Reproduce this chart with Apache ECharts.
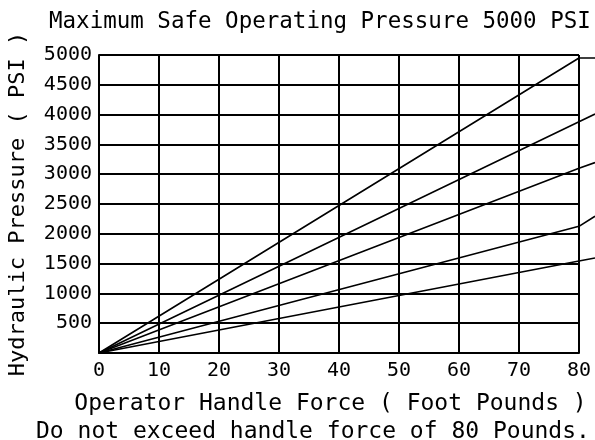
<!DOCTYPE html>
<html>
<head>
<meta charset="utf-8">
<script src="https://cdn.jsdelivr.net/npm/echarts@6/dist/echarts.min.js"></script>
<style>
    html, body { margin: 0; padding: 0; background: #fff; }
    #main { width: 595px; height: 440px; }
</style>
</head>
<body>
<div id="main"></div>
<script>
// handle force points (last point runs past the 80 lb border)
var forceX = [0, 80, 82.67];
// pressure, top to bottom
var line1 = [0, 4950, 4950];
var line2 = [0, 3880, 4010];
var line3 = [0, 3100, 3195];
var line4 = [0, 2125, 2295];
var line5 = [0, 1545, 1595];
var xTicks = [0, 10, 20, 30, 40, 50, 60, 70, 80];
var yTicks = [500, 1000, 1500, 2000, 2500, 3000, 3500, 4000, 4500, 5000];

var fontName = 'DejaVu Sans Mono';
var myChart = echarts.init(document.getElementById('main'));

function toPoints(vals) {
    var pts = [];
    for (var i = 0; i < forceX.length; i++) {
        pts.push([forceX[i], vals[i]]);
    }
    return pts;
}

// lines live on a second (hidden) grid that reaches the right edge,
// same scale as the visible one: 480px per 80 lb -> 496px is 82.67 lb
function lineSeries(vals) {
    return {
        type: 'line',
        xAxisIndex: 1,
        yAxisIndex: 1,
        data: toPoints(vals),
        symbol: 'none',
        silent: true,
        lineStyle: { color: '#000', width: 1.6 }
    };
}

var option = {
    animation: false,
    backgroundColor: '#fff',
    title: {
        text: 'Maximum Safe Operating Pressure 5000 PSI',
        left: 44,
        top: 6,
        textStyle: { fontFamily: fontName, fontSize: 22.5, fontWeight: 'normal', color: '#000' }
    },
    grid: [
        { left: 99, right: 16, top: 55, bottom: 87, outerBoundsMode: 'none' },
        { left: 99, right: 0, top: 55, bottom: 87, outerBoundsMode: 'none' }
    ],
    xAxis: [
        {
            type: 'value',
            gridIndex: 0,
            min: 0,
            max: 80,
            interval: 10,
            name: 'Operator Handle Force ( Foot Pounds )',
            nameLocation: 'middle',
            nameGap: 40,
            nameTextStyle: { fontFamily: fontName, fontSize: 23, color: '#000', padding: [0, 17, 0, 0] },
            axisLine: { lineStyle: { color: '#000', width: 2 } },
            axisTick: { show: false },
            axisLabel: {
                fontFamily: fontName, fontSize: 20, color: '#000', margin: 8,
                formatter: function (v) { return xTicks.indexOf(v) >= 0 ? String(v) : ''; }
            },
            splitLine: { lineStyle: { color: '#000', width: 2 } }
        },
        {
            type: 'value',
            gridIndex: 1,
            min: 0,
            max: 82.67,
            show: false
        }
    ],
    yAxis: [
        {
            type: 'value',
            gridIndex: 0,
            min: 0,
            max: 5000,
            interval: 500,
            name: 'Hydraulic Pressure ( PSI )',
            nameLocation: 'middle',
            nameGap: 70,
            nameTextStyle: { fontFamily: fontName, fontSize: 22, color: '#000' },
            axisLine: { show: true, lineStyle: { color: '#000', width: 2 } },
            axisTick: { show: false },
            axisLabel: {
                fontFamily: fontName, fontSize: 20, color: '#000', margin: 7,
                formatter: function (v) { return yTicks.indexOf(v) >= 0 ? String(v) : ''; }
            },
            splitLine: { lineStyle: { color: '#000', width: 2 } }
        },
        {
            type: 'value',
            gridIndex: 1,
            min: 0,
            max: 5000,
            show: false
        }
    ],
    graphic: [
        {
            type: 'text',
            left: 36,
            top: 421,
            style: {
                text: 'Do not exceed handle force of 80 Pounds.',
                fontFamily: fontName,
                fontSize: 23,
                fill: '#000'
            }
        }
    ],
    series: [
        lineSeries(line1),
        lineSeries(line2),
        lineSeries(line3),
        lineSeries(line4),
        lineSeries(line5)
    ]
};
myChart.setOption(option);
</script>
</body>
</html>
